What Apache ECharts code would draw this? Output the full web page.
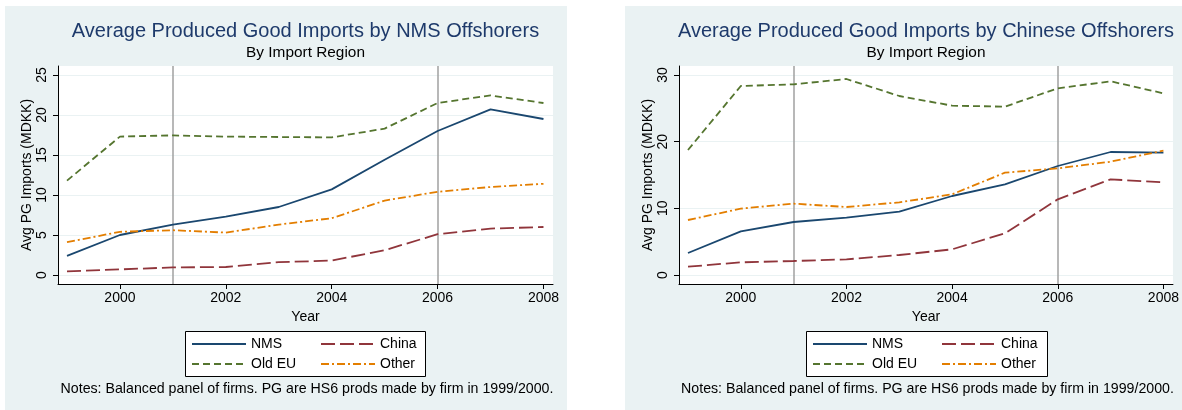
<!DOCTYPE html>
<html>
<head>
<meta charset="utf-8">
<script src="https://cdn.jsdelivr.net/npm/echarts@6/dist/echarts.min.js"></script>
<style>
html,body{margin:0;padding:0;background:#fff;}
#chart{width:1182px;height:410px;}
</style>
</head>
<body>
<div id="chart"></div>
<script>
// ---- data ----
const years = [1999, 2000, 2001, 2002, 2003, 2004, 2005, 2006, 2007, 2008];
// Left panel: NMS offshorers
const nmsL    = [2.4, 5.0, 6.3, 7.3, 8.5, 10.7, 14.4, 18.0, 20.7, 19.5];
const chinaL  = [0.45, 0.7, 0.95, 1.0, 1.6, 1.8, 3.1, 5.1, 5.8, 6.0];
const oldEuL  = [11.8, 17.3, 17.45, 17.3, 17.25, 17.2, 18.3, 21.5, 22.45, 21.5];
const otherL  = [4.1, 5.4, 5.6, 5.3, 6.3, 7.1, 9.3, 10.4, 11.0, 11.4];
// Right panel: Chinese offshorers
const nmsR    = [3.3, 6.55, 7.95, 8.6, 9.5, 11.85, 13.6, 16.35, 18.45, 18.35];
const chinaR  = [1.25, 1.9, 2.1, 2.35, 3.0, 3.85, 6.25, 11.35, 14.35, 13.9];
const oldEuR  = [18.75, 28.35, 28.6, 29.4, 26.85, 25.4, 25.25, 28.0, 29.05, 27.25];
const otherR  = [8.25, 9.95, 10.7, 10.2, 10.9, 12.1, 15.35, 16.0, 17.0, 18.65];

const xTicks  = [2000, 2002, 2004, 2006, 2008];
const yTicksL = [0, 5, 10, 15, 20, 25];
const yTicksR = [0, 10, 20, 30];
const refYears = [2001, 2006];

const titleL = 'Average Produced Good Imports by NMS Offshorers';
const titleR = 'Average Produced Good Imports by Chinese Offshorers';
const subtitle = 'By Import Region';
const notes = 'Notes: Balanced panel of firms. PG are HS6 prods made by firm in 1999/2000.';
const yName = 'Avg PG Imports (MDKK)';
const xName = 'Year';

// ---- styles ----
const FONT = '"Liberation Sans", Arial, Helvetica, sans-serif';
const styles = {
  'NMS':    {color: '#1a476f', type: 'solid'},
  'China':  {color: '#90353b', type: [14, 5]},
  'Old EU': {color: '#55752f', type: [7, 4]},
  'Other':  {color: '#e37e00', type: [8, 3, 2, 3]}
};
const BG = '#eaf2f3';

function pairs(vals){ return years.map((y, i) => [y, vals[i]]); }

function mkSeries(name, vals, gi, withRef){
  const s = {
    name: name, type: 'line', xAxisIndex: gi, yAxisIndex: gi,
    data: pairs(vals), symbol: 'none', showSymbol: false, silent: true,
    lineStyle: {color: styles[name].color, width: 1.8, type: styles[name].type},
    itemStyle: {color: styles[name].color},
    z: 3
  };
  if (withRef){
    s.markLine = {
      silent: true, symbol: 'none', label: {show: false},
      lineStyle: {color: '#a0a0a0', width: 1.5, type: 'solid'},
      data: refYears.map(y => ({xAxis: y})),
      z: 1
    };
  }
  return s;
}

function xAxisCfg(gi){
  return {
    type: 'value', gridIndex: gi, min: 1998.83, max: 2008.18,
    axisLine: {show: true, onZero: false, lineStyle: {color: '#000', width: 1}},
    axisTick: {show: true, length: 5, customValues: xTicks, lineStyle: {color: '#000'}},
    axisLabel: {customValues: xTicks, formatter: v => String(v), color: '#000', fontSize: 14, margin: 7, fontFamily: FONT},
    splitLine: {show: false},
    name: xName, nameLocation: 'middle', nameGap: 22,
    nameTextStyle: {color: '#000', fontSize: 14, fontFamily: FONT}
  };
}
function yAxisCfg(gi, min, max, ticks){
  return {
    type: 'value', gridIndex: gi, min: min, max: max,
    axisLine: {show: true, onZero: false, lineStyle: {color: '#000', width: 1}},
    axisTick: {show: true, length: 5, customValues: ticks, lineStyle: {color: '#000'}},
    axisLabel: {customValues: ticks, formatter: v => String(v), rotate: 90, color: '#000', fontSize: 14, margin: 9, fontFamily: FONT},
    splitLine: {show: true, lineStyle: {color: BG, width: 1}},
    name: yName, nameLocation: 'middle', nameGap: 19,
    nameTextStyle: {color: '#000', fontSize: 14, fontFamily: FONT}
  };
}

function legendCfg(left, data){
  return {
    orient: 'vertical', left: left, top: 337, padding: 0,
    data: data, itemWidth: 54, itemHeight: 14, itemGap: 6,
    selectedMode: false,
    itemStyle: {color: 'rgba(0,0,0,0)', borderWidth: 0, opacity: 0},
    textStyle: {color: '#000', fontSize: 14, fontFamily: FONT}
  };
}

function txt(x, y, text, size, color){
  return {
    type: 'text', x: x, y: y, silent: true, z: 10,
    style: {text: text, fill: color, fontSize: size, fontFamily: FONT,
            textAlign: 'center', textVerticalAlign: 'middle',
            align: 'center', verticalAlign: 'middle'}
  };
}

const gridL = {left: 58, top: 66, width: 495, height: 218};
const gridR = {left: 679, top: 66, width: 494, height: 218};
const cL = gridL.left + gridL.width / 2;
const cR = gridR.left + gridR.width / 2;

const chart = echarts.init(document.getElementById('chart'), null, {renderer: 'canvas'});
chart.setOption({
  animation: false,
  backgroundColor: '#fff',
  grid: [
    Object.assign({show: true, backgroundColor: '#fff', borderWidth: 0, containLabel: false}, gridL),
    Object.assign({show: true, backgroundColor: '#fff', borderWidth: 0, containLabel: false}, gridR)
  ],
  xAxis: [xAxisCfg(0), xAxisCfg(1)],
  yAxis: [yAxisCfg(0, -1.125, 26.125, yTicksL), yAxisCfg(1, -1.35, 31.35, yTicksR)],
  legend: [
    legendCfg(191, ['NMS', 'Old EU']),
    legendCfg(320, ['China', 'Other']),
    legendCfg(812, ['NMS', 'Old EU']),
    legendCfg(941, ['China', 'Other'])
  ],
  graphic: [
    {type: 'rect', shape: {x: 5, y: 6, width: 562, height: 404}, style: {fill: BG}, z: -10, silent: true},
    {type: 'rect', shape: {x: 625, y: 6, width: 557, height: 404}, style: {fill: BG}, z: -10, silent: true},
    {type: 'rect', shape: {x: 185.5, y: 331.5, width: 240, height: 45}, style: {fill: '#fff', stroke: '#000', lineWidth: 1}, z: 0, silent: true},
    {type: 'rect', shape: {x: 806.5, y: 331.5, width: 241, height: 45}, style: {fill: '#fff', stroke: '#000', lineWidth: 1}, z: 0, silent: true},
    txt(cL, 31, titleL, 20, '#1e3a6b'),
    txt(cR, 31, titleR, 20, '#1e3a6b'),
    txt(cL, 53, subtitle, 15.4, '#000'),
    txt(cR, 53, subtitle, 15.4, '#000'),
    txt(cL + 1.5, 389, notes, 14.2, '#000'),
    txt(cR + 1.5, 389, notes, 14.2, '#000')
  ],
  series: [
    mkSeries('NMS', nmsL, 0, true),
    mkSeries('China', chinaL, 0, false),
    mkSeries('Old EU', oldEuL, 0, false),
    mkSeries('Other', otherL, 0, false),
    mkSeries('NMS', nmsR, 1, true),
    mkSeries('China', chinaR, 1, false),
    mkSeries('Old EU', oldEuR, 1, false),
    mkSeries('Other', otherR, 1, false)
  ]
});
</script>
</body>
</html>
